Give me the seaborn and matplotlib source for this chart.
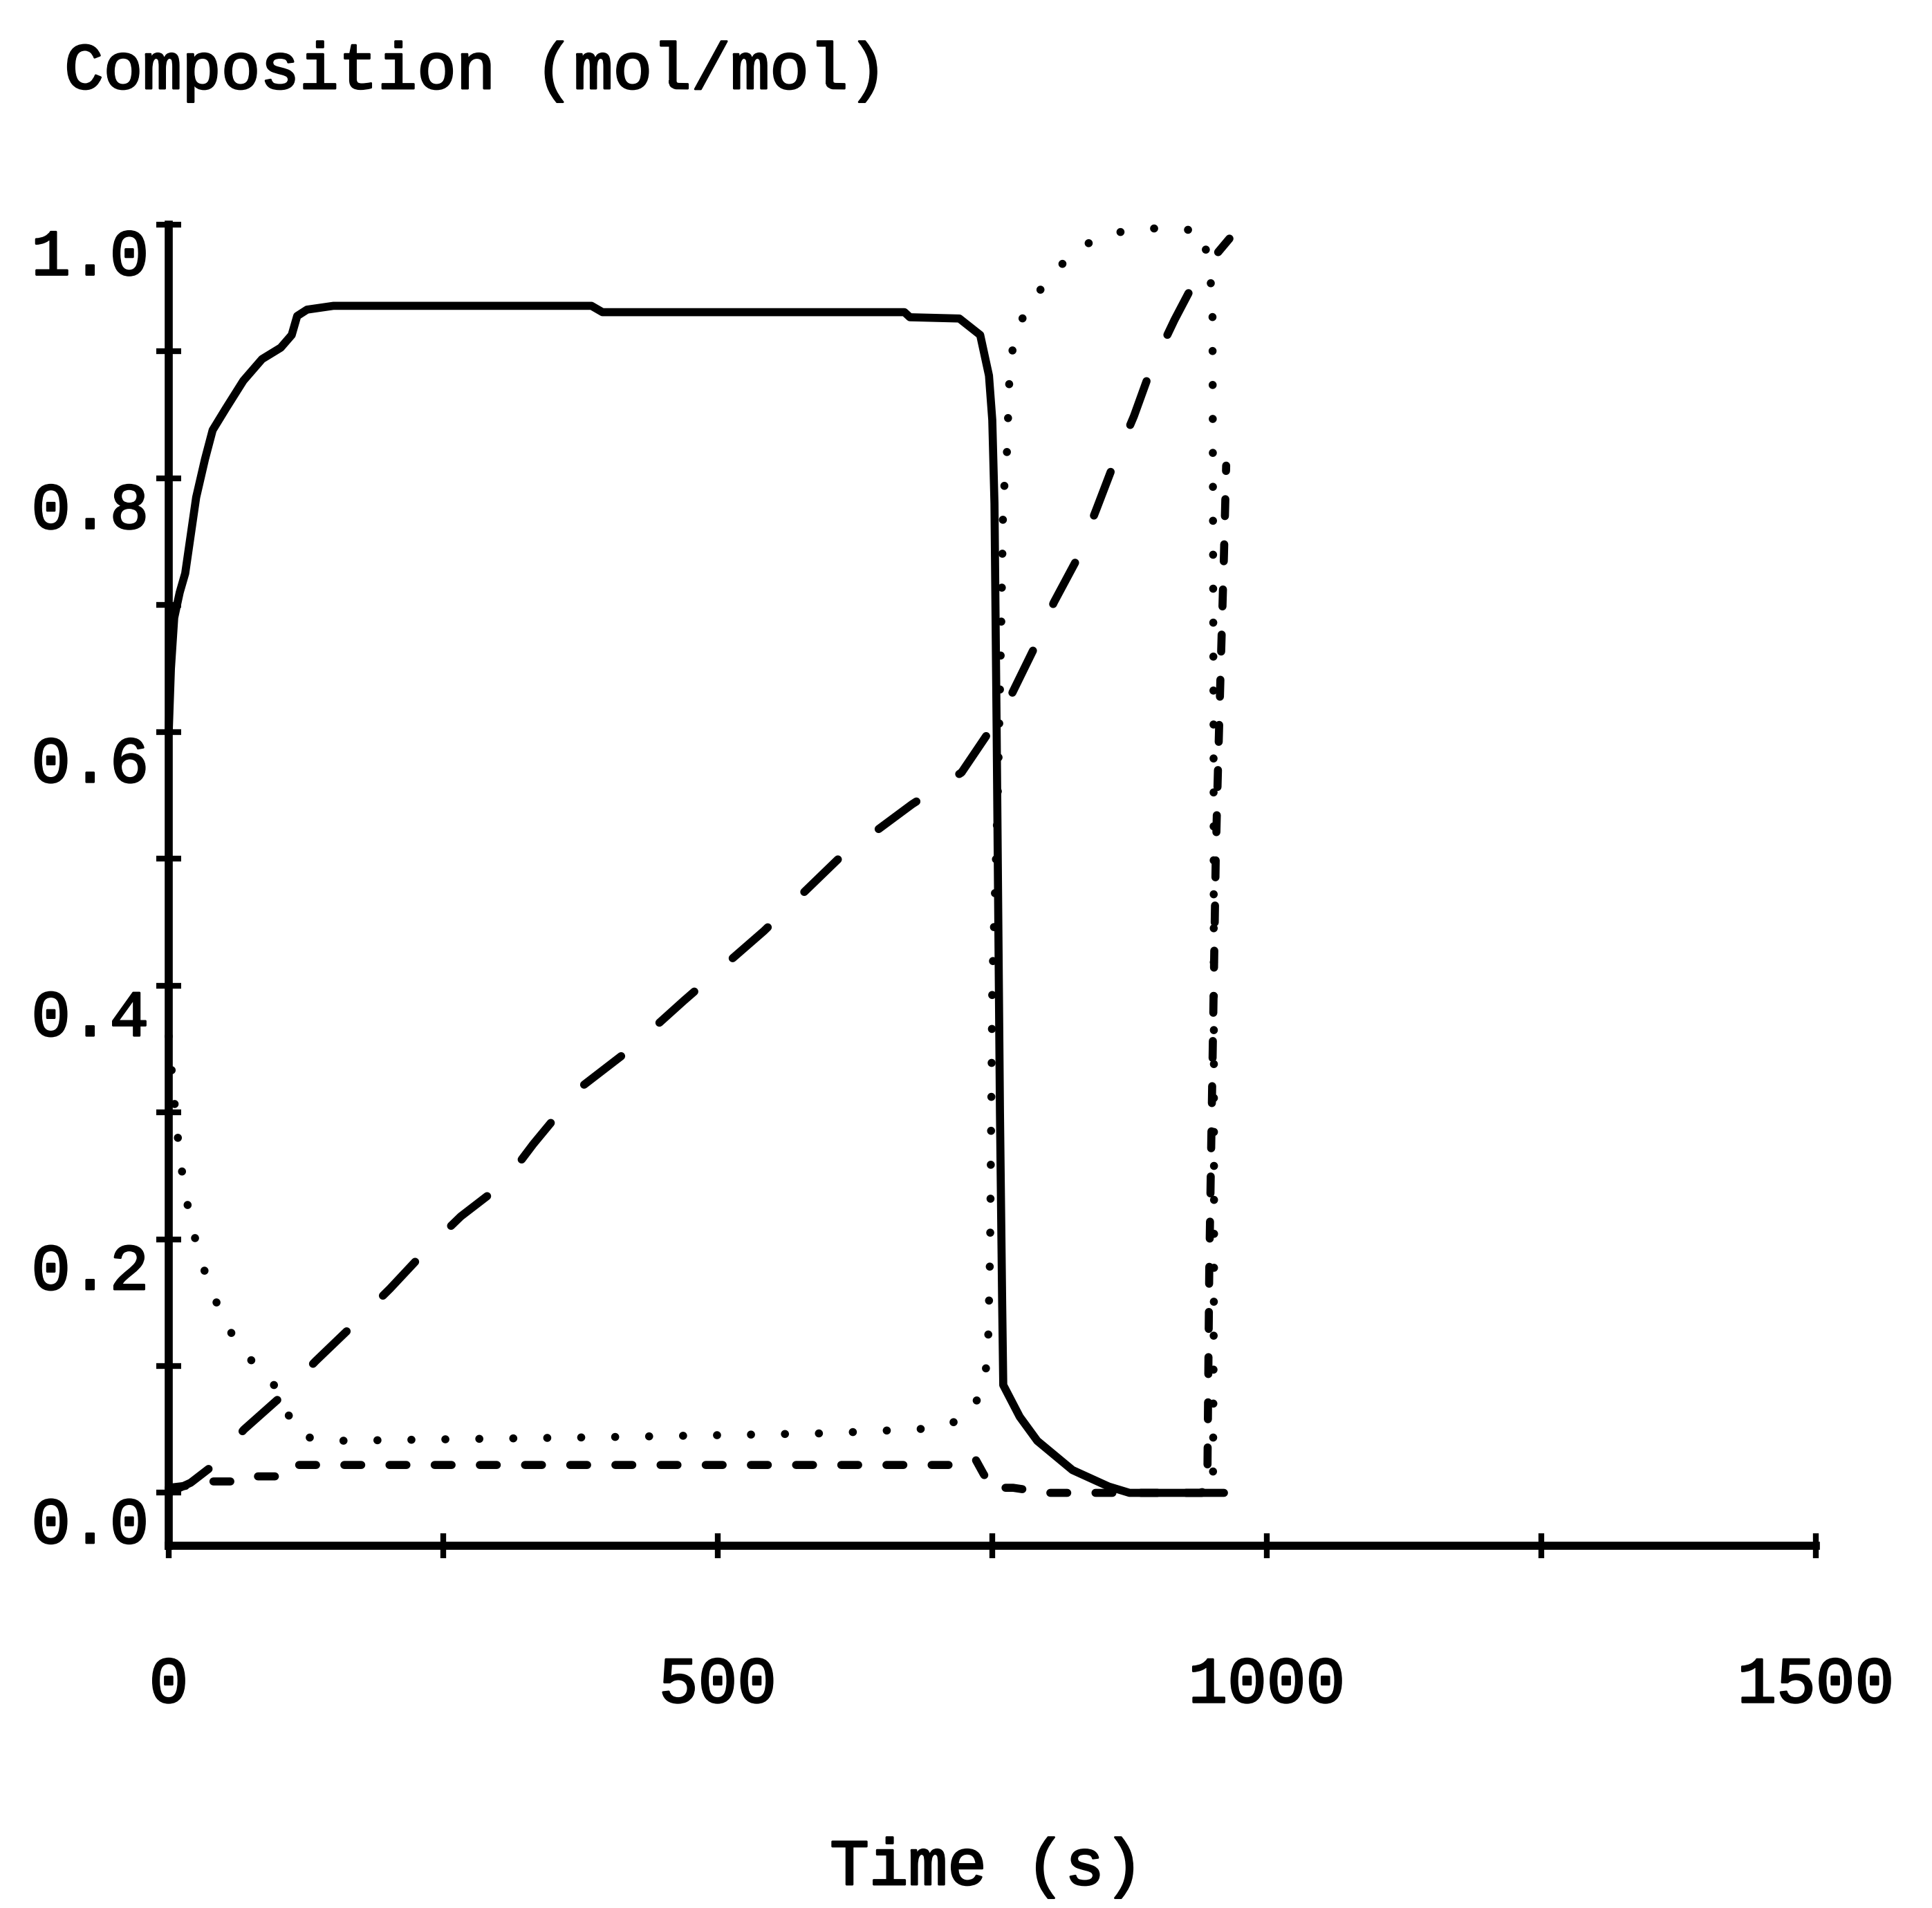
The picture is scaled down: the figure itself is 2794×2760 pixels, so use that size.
import numpy as np
import pandas as pd
import matplotlib
matplotlib.use("Agg")
import matplotlib.pyplot as plt
import matplotlib.transforms as mtransforms
import matplotlib.patheffects as pe
import seaborn as sns

# ---- data ----
time_solid = [0, 2, 5, 10, 15, 25, 33, 40, 52, 68, 85, 102, 112, 117, 126, 150,
              385, 395, 670, 675, 720, 739, 747, 750, 752, 754, 757, 759, 760,
              775, 791, 823, 856, 875, 961]
comp_solid = [0.60, 0.65, 0.69, 0.71, 0.725, 0.785, 0.815, 0.838, 0.855, 0.877,
              0.894, 0.903, 0.913, 0.928, 0.933, 0.936, 0.936, 0.931, 0.931,
              0.927, 0.926, 0.913, 0.881, 0.846, 0.78, 0.60, 0.30, 0.15, 0.085,
              0.06, 0.041, 0.018, 0.005, 0.0, 0.0]

time_dotted = [0, 5, 10, 16, 22, 31, 41, 54, 71, 93, 105, 118, 148, 400, 600,
               700, 728, 742, 746, 748, 750, 755, 758, 760, 763, 765, 766, 772,
               786, 805, 827, 854, 883, 913, 942, 950.5, 951.5, 952, 951]
comp_dotted = [0.36, 0.31, 0.265, 0.232, 0.207, 0.179, 0.155, 0.130, 0.108,
               0.09, 0.069, 0.045, 0.041, 0.044, 0.047, 0.051, 0.060, 0.083,
               0.11, 0.19, 0.40, 0.55, 0.675, 0.785, 0.812, 0.864, 0.89, 0.917,
               0.94, 0.961, 0.981, 0.992, 0.997, 0.997, 0.995, 0.945, 0.60,
               0.19, 0.01]

time_longdash = [0, 20, 39.5, 68.6, 103.7, 133.9, 170, 201.5, 235, 266, 305,
                 332, 374, 419, 469, 542, 610, 677, 722, 761, 787, 806, 827,
                 845, 860, 879, 894, 916, 936, 966]
comp_longdash = [0.0, 0.008, 0.021, 0.05, 0.077, 0.104, 0.134, 0.161, 0.192,
                 0.218, 0.244, 0.275, 0.319, 0.349, 0.388, 0.443, 0.50, 0.543,
                 0.568, 0.618, 0.664, 0.702, 0.736, 0.776, 0.81, 0.849, 0.885,
                 0.925, 0.958, 0.989]

time_shortdash = [0, 20, 40, 60, 78, 100, 113, 136, 300, 500, 712, 735, 742,
                  750, 769, 800, 830, 870, 941, 946, 947.6, 953.5, 955, 958,
                  961, 963]
comp_shortdash = [0.004, 0.006, 0.009, 0.009, 0.013, 0.013, 0.022, 0.022, 0.022,
                  0.022, 0.022, 0.026, 0.015, 0.004, 0.004, 0.0, 0.0, 0.0, 0.0,
                  0.022, 0.176, 0.50, 0.553, 0.65, 0.74, 0.81]

x_ticks = [0, 250, 500, 750, 1000, 1250, 1500]
x_tick_labels = ["0", "", "500", "", "1000", "", "1500"]
y_ticks = [0.0, 0.1, 0.2, 0.3, 0.4, 0.5, 0.6, 0.7, 0.8, 0.9, 1.0]
y_tick_labels = ["0.0", "", "0.2", "", "0.4", "", "0.6", "", "0.8", "", "1.0"]

# ---- build long-form table ----
series = [("solid", time_solid, comp_solid),
          ("dotted", time_dotted, comp_dotted),
          ("long dash", time_longdash, comp_longdash),
          ("short dash", time_shortdash, comp_shortdash)]
df = pd.concat([pd.DataFrame({"time": t, "comp": c, "series": n})
                for n, t, c in series], ignore_index=True)

sns.set_theme(style="ticks")
plt.rcParams["font.family"] = ["Liberation Mono", "DejaVu Sans"]
plt.rcParams["text.color"] = "black"

fig = plt.figure(figsize=(13.97, 13.8), dpi=200)
ax = fig.add_axes([0.08733, 0.18986, 0.85254, 0.69239])

dash_map = {"solid": "", "dotted": (0.01, 4.2),
            "long dash": (5.8, 6.3), "short dash": (2.1, 3.5)}
sns.lineplot(data=df, x="time", y="comp", style="series", dashes=dash_map,
             color="black", linewidth=4.2, sort=False, estimator=None,
             legend=False, ax=ax)
for ln in ax.lines:
    ln.set_dash_capstyle("round")
    ln.set_solid_capstyle("round")
    ln.set_solid_joinstyle("round")
    ln.set_dash_joinstyle("round")
    ln.set_clip_on(False)

ax.set_xlim(0, 1500)
ax.set_ylim(-0.0417, 1.0)
ax.set_xlabel("")
ax.set_ylabel("")
ax.set_xticks(x_ticks)
ax.set_xticklabels(x_tick_labels)
ax.set_yticks(y_ticks)
ax.set_yticklabels(y_tick_labels)

for side in ["top", "right"]:
    ax.spines[side].set_visible(False)
for side in ["left", "bottom"]:
    ax.spines[side].set_linewidth(4.2)
    ax.spines[side].set_color("black")

ax.tick_params(axis="both", direction="inout", length=13.3, width=3,
               color="black", labelcolor="black", labelsize=34)
ax.tick_params(axis="x", pad=50)
ax.tick_params(axis="y", pad=3.6)

thick = [pe.withStroke(linewidth=1.0, foreground="black")]
for lbl in ax.get_xticklabels() + ax.get_yticklabels():
    lbl.set_path_effects(thick)

offset = mtransforms.ScaledTranslation(0, -0.19, fig.dpi_scale_trans)
for tick in ax.yaxis.get_major_ticks():
    tick.label1.set_transform(tick.label1.get_transform() + offset)

fig.text(0.0333, 0.9536, "Composition (mol/mol)", fontsize=34,
         color="black", ha="left", va="baseline", path_effects=thick)
fig.text(0.5108, 0.0123, "Time (s)", fontsize=34,
         color="black", ha="center", va="baseline", path_effects=thick)

fig.savefig("out.png", dpi=200, facecolor="white")
